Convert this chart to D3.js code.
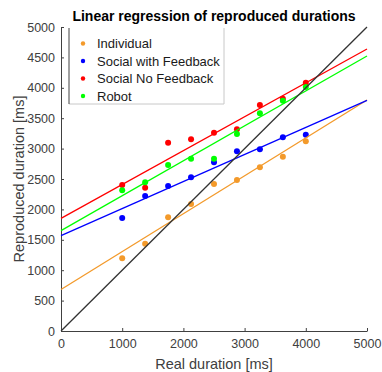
<!DOCTYPE html>
<html>
<head>
<meta charset="utf-8">
<script src="https://cdn.jsdelivr.net/npm/d3@7"></script>
<style>
  body { margin: 0; background: #fff; }
  text { font-family: "Liberation Sans", Arial, sans-serif; }
</style>
</head>
<body>
<div id="chart"></div>
<script>
// durações reais (eixo x)
const realDurations = [1000, 1375, 1750, 2125, 2500, 2875, 3250, 3625, 4000];

// durações reproduzidas por condição
const individual = [1196, 1436, 1870, 2089, 2418, 2484, 2692, 2867, 3120];
const socialFeedback = [1859, 2220, 2385, 2528, 2775, 2956, 2989, 3186, 3229];
const socialNoFeedback = [2401, 2357, 3097, 3153, 3262, 3317, 3717, 3821, 4084];
const robot = [2314, 2446, 2730, 2834, 2834, 3240, 3581, 3788, 4013];

const seriesNames = ["Individual", "Social with Feedback", "Social No Feedback", "Robot"];
const seriesColors = ["#f39a2b", "#0000ff", "#ff0000", "#00ff00"];
const ticks = [0, 500, 1000, 1500, 2000, 2500, 3000, 3500, 4000, 4500, 5000];
const xTicks = [0, 1000, 2000, 3000, 4000, 5000];

const series = [individual, socialFeedback, socialNoFeedback, robot].map((vals, i) => ({
  name: seriesNames[i],
  color: seriesColors[i],
  points: vals.map((v, j) => ({ x: realDurations[j], y: v }))
}));

const width = 382;
const height = 372;
const margin = { top: 27, right: 15, bottom: 41, left: 61 };

const svg = d3
  .select("#chart")
  .append("svg")
  .attr("width", width)
  .attr("height", height);

const xScale = d3.scaleLinear().domain([0, 5000]).range([margin.left, width - margin.right]);
const yScale = d3.scaleLinear().domain([0, 5000]).range([height - margin.bottom, margin.top]);

// regressão linear (mínimos quadrados)
function fit(points) {
  const mx = d3.mean(points, (d) => d.x);
  const my = d3.mean(points, (d) => d.y);
  const sxy = d3.sum(points, (d) => (d.x - mx) * (d.y - my));
  const sxx = d3.sum(points, (d) => (d.x - mx) * (d.x - mx));
  const slope = sxy / sxx;
  return { slope, intercept: my - slope * mx };
}

const axisColor = "#404040";
const fmt = d3.format("d");

// eixos
const xAxis = svg
  .append("g")
  .attr("transform", `translate(0,${yScale(0)})`)
  .call(d3.axisBottom(xScale).tickValues(xTicks).tickFormat(fmt).tickSizeInner(-3).tickSizeOuter(0).tickPadding(8));

const yAxis = svg
  .append("g")
  .attr("transform", `translate(${xScale(0)},0)`)
  .call(d3.axisLeft(yScale).tickValues(ticks).tickFormat(fmt).tickSizeInner(-3).tickSizeOuter(0).tickPadding(6));

[xAxis, yAxis].forEach((ax) => {
  ax.select(".domain").attr("stroke", axisColor);
  ax.selectAll(".tick line").attr("stroke", axisColor);
  ax.selectAll(".tick text")
    .attr("fill", axisColor)
    .style("font-size", "12.5px")
    .style("font-family", "'Liberation Sans', Arial, sans-serif");
});

const line = d3
  .line()
  .x((d) => xScale(d[0]))
  .y((d) => yScale(d[1]));

// pontos
series.forEach((s) => {
  svg
    .append("g")
    .selectAll("circle")
    .data(s.points)
    .enter()
    .append("circle")
    .attr("cx", (d) => xScale(d.x))
    .attr("cy", (d) => yScale(d.y))
    .attr("r", 3)
    .attr("fill", s.color);
});

// retas de regressão
series.forEach((s) => {
  const f = fit(s.points);
  svg
    .append("path")
    .datum([[0, f.intercept], [5000, f.intercept + f.slope * 5000]])
    .attr("d", line)
    .attr("fill", "none")
    .attr("stroke", s.color)
    .attr("stroke-width", 1.3);
});

// linha identidade
svg
  .append("path")
  .datum([[0, 0], [5000, 5000]])
  .attr("d", line)
  .attr("fill", "none")
  .attr("stroke", "#333333")
  .attr("stroke-width", 1.3);

// título
svg
  .append("text")
  .attr("x", 214)
  .attr("y", 21)
  .attr("text-anchor", "middle")
  .style("font-size", "14px")
  .style("font-weight", "bold")
  .attr("fill", "#000")
  .text("Linear regression of reproduced durations");

// rótulos dos eixos
svg
  .append("text")
  .attr("x", xScale(2500))
  .attr("y", 369)
  .attr("text-anchor", "middle")
  .style("font-size", "14.5px")
  .attr("fill", axisColor)
  .text("Real duration [ms]");

svg
  .append("text")
  .attr("transform", `translate(24,${yScale(2500)}) rotate(-90)`)
  .attr("text-anchor", "middle")
  .style("font-size", "14.5px")
  .attr("fill", axisColor)
  .text("Reproduced duration [ms]");

// legenda
const legend = svg.append("g").attr("transform", "translate(69,28)");
legend.append("rect")
  .attr("width", 155)
  .attr("height", 76)
  .attr("fill", "#fff");
legend.append("path")
  .attr("d", "M155,0V76H0")
  .attr("fill", "none")
  .attr("stroke", "#c8c8c8");
legend.append("line")
  .attr("x1", 0).attr("y1", 0).attr("x2", 0).attr("y2", 76)
  .attr("stroke", axisColor);

series.forEach((s, i) => {
  const g = legend.append("g").attr("transform", `translate(0,${15.5 + i * 17.5})`);
  g.append("circle").attr("cx", 14).attr("cy", 0).attr("r", 2.2).attr("fill", s.color);
  g.append("text")
    .attr("x", 28)
    .attr("y", 0)
    .attr("dy", "0.35em")
    .style("font-size", "13px")
    .attr("fill", "#1a1a1a")
    .text(s.name);
});
</script>
</body>
</html>
